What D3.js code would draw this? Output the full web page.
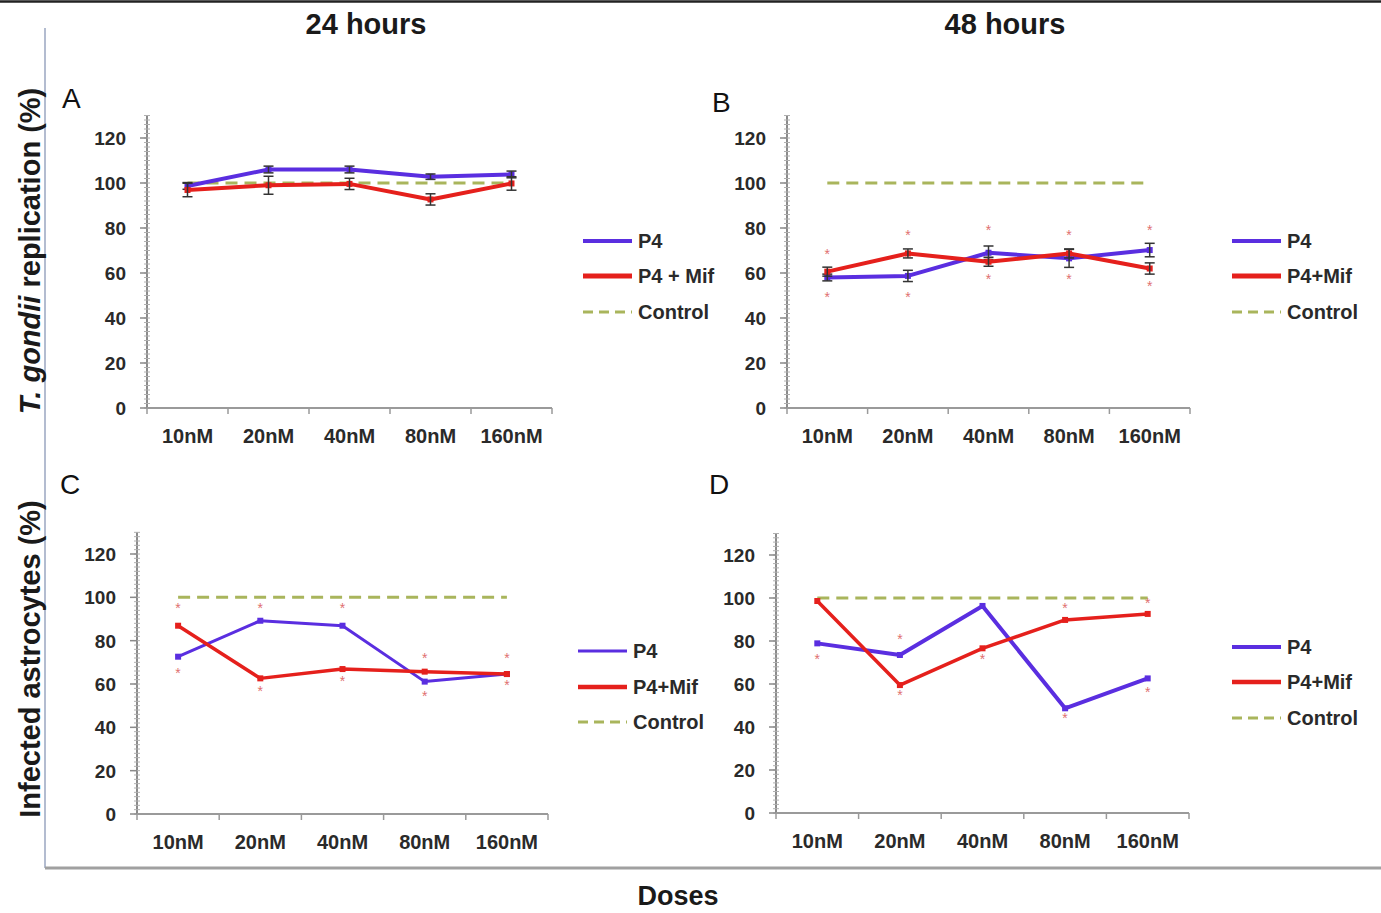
<!DOCTYPE html>
<html>
<head>
<meta charset="utf-8">
<script src="https://cdn.jsdelivr.net/npm/d3@7/dist/d3.min.js"></script>
<style>
  body { margin: 0; background: #fff; }
  svg { display: block; }
  text { font-family: Arial, "Liberation Sans", sans-serif; }
</style>
</head>
<body>
<div id="chart"></div>
<script>
const W = 1381, H = 913;

const doses = ["10nM", "20nM", "40nM", "80nM", "160nM"];
const yTicks = [0, 20, 40, 60, 80, 100, 120];

// panel A - 24h replication
const aP4 = [98.7, 106, 106, 102.8, 103.8];
const aP4Err = [1.5, 1.5, 1.5, 1.2, 1.5];
const aMif = [96.9, 99, 99.6, 92.7, 99.8];
const aMifErr = [3, 4, 2.5, 2.5, 3];

// panel B - 48h replication
const bP4 = [58, 58.7, 69, 66.5, 70.2];
const bP4Err = [1.5, 2.5, 3, 4, 3];
const bMif = [60.6, 68.7, 65, 68.7, 62];
const bMifErr = [2, 2, 2, 2, 2.5];
const bStarHi = [69, 77.3, 79.4, 77.3, 79.4];
const bStarLo = [49.8, 49.8, 57.6, 57.6, 54.7];

// panel C - 24h infected astrocytes
const cP4 = [72.6, 89.2, 86.9, 61.1, 64.6];
const cMif = [86.9, 62.6, 66.9, 65.7, 64.6];
const cStarHi = [95.7, 95.7, 95.7, 72.3, 72.3];
const cStarLo = [65.7, 57.2, 61.8, 54.9, 59.8];

// panel D - 48h infected astrocytes
const dP4 = [78.9, 73.5, 96.3, 48.7, 62.6];
const dMif = [98.6, 59.5, 76.6, 89.8, 92.6];
const dStarHi = [null, 81.3, null, 96, 98.3];
const dStarLo = [72, 55.2, 72, 44.8, 56.9];

const control = [100, 100, 100, 100, 100];

const purple = "#5a2ee0", red = "#e5201c", olive = "#a9b55c";

const svg = d3.select("#chart").append("svg").attr("width", W).attr("height", H);

// frame
svg.append("line").attr("x1", 0).attr("x2", W).attr("y1", 1.5).attr("y2", 1.5)
  .attr("stroke", "#222").attr("stroke-width", 2.5);
svg.append("line").attr("x1", 45).attr("x2", 45).attr("y1", 28).attr("y2", 868)
  .attr("stroke", "#9aa6c0").attr("stroke-width", 1.5);
svg.append("line").attr("x1", 45).attr("x2", W).attr("y1", 868).attr("y2", 868)
  .attr("stroke", "#a0a0a0").attr("stroke-width", 3);

const narrow = "'Liberation Sans Narrow', 'Arial Narrow', Arial, sans-serif";
function titleText(x, y, s, size) {
  return svg.append("text").attr("x", x).attr("y", y).attr("text-anchor", "middle")
    .style("font-family", narrow)
    .style("font-size", size + "px").style("font-weight", "bold").attr("fill", "#1a1a1a").text(s);
}
titleText(366, 34, "24 hours", 29);
titleText(1005, 34, "48 hours", 29);
titleText(678, 905, "Doses", 27);

// y titles
const yt1 = svg.append("text").attr("transform", "translate(40,251) rotate(-90)")
  .attr("text-anchor", "middle").style("font-size", "29px").style("font-weight", "bold").attr("fill", "#1a1a1a");
yt1.append("tspan").style("font-style", "italic").text("T. gondii");
yt1.append("tspan").text(" replication (%)");
svg.append("text").attr("transform", "translate(40,659) rotate(-90)")
  .attr("text-anchor", "middle").style("font-size", "29px").style("font-weight", "bold").attr("fill", "#1a1a1a")
  .text("Infected astrocytes (%)");

function panel(cfg) {
  const x = d3.scaleBand().domain(doses).range([cfg.x0, cfg.x1]);
  const y = d3.scaleLinear().domain([0, 120]).range([cfg.y0, cfg.y120]);
  const g = svg.append("g");
  const cx = d => x(d) + x.bandwidth() / 2;

  g.append("text").attr("x", cfg.lx).attr("y", cfg.ly).style("font-size", "28px")
    .attr("fill", "#111").text(cfg.letter);

  // y axis with dense minor ticks
  const yTop = y(130);
  g.append("line").attr("x1", cfg.x0).attr("x2", cfg.x0).attr("y1", yTop).attr("y2", cfg.y0)
    .attr("stroke", "#8a8a8a").attr("stroke-width", 2);
  g.selectAll(".minor").data(d3.range(0, 131, 2)).enter().append("line")
    .attr("x1", cfg.x0 - 3).attr("x2", cfg.x0 + 3)
    .attr("y1", d => y(d)).attr("y2", d => y(d))
    .attr("stroke", "#b0b0b0").attr("stroke-width", 1);
  g.selectAll(".major").data(yTicks).enter().append("line")
    .attr("x1", cfg.x0 - 7).attr("x2", cfg.x0)
    .attr("y1", d => y(d)).attr("y2", d => y(d))
    .attr("stroke", "#8a8a8a").attr("stroke-width", 1.5);
  g.selectAll(".ylab").data(yTicks).enter().append("text")
    .attr("x", cfg.x0 - 21).attr("y", d => y(d) + 7).attr("text-anchor", "end")
    .style("font-size", "19px").style("font-weight", "bold").attr("fill", "#2a2a2a")
    .text(d => d);

  // x axis
  g.append("line").attr("x1", cfg.x0).attr("x2", cfg.x1).attr("y1", cfg.y0).attr("y2", cfg.y0)
    .attr("stroke", "#9a9a9a").attr("stroke-width", 2);
  g.selectAll(".xt").data(doses.map(d => x(d)).concat([cfg.x1])).enter().append("line")
    .attr("x1", d => d).attr("x2", d => d).attr("y1", cfg.y0).attr("y2", cfg.y0 + 6)
    .attr("stroke", "#9a9a9a").attr("stroke-width", 1.5);
  g.selectAll(".xlab").data(doses).enter().append("text")
    .attr("x", d => cx(d)).attr("y", cfg.y0 + 35).attr("text-anchor", "middle")
    .style("font-size", "20px").style("font-weight", "bold").attr("fill", "#2a2a2a")
    .text(d => d);

  const line = d3.line().x((d, i) => cx(doses[i])).y(d => y(d));

  // control
  g.append("path").datum(control).attr("d", line).attr("fill", "none")
    .attr("stroke", olive).attr("stroke-width", 3).attr("stroke-dasharray", "12,7");

  function series(vals, errs, color, w) {
    g.append("path").datum(vals).attr("d", line).attr("fill", "none")
      .attr("stroke", color).attr("stroke-width", w).attr("stroke-linejoin", "round");
    g.selectAll(null).data(vals).enter().append("rect")
      .attr("x", (d, i) => cx(doses[i]) - 3).attr("y", d => y(d) - 3)
      .attr("width", 6).attr("height", 6).attr("fill", color);
    if (errs) {
      vals.forEach((v, i) => {
        const px = cx(doses[i]);
        g.append("line").attr("x1", px).attr("x2", px)
          .attr("y1", y(v + errs[i])).attr("y2", y(v - errs[i]))
          .attr("stroke", "#333").attr("stroke-width", 1.5);
        [v + errs[i], v - errs[i]].forEach(e => {
          g.append("line").attr("x1", px - 5).attr("x2", px + 5)
            .attr("y1", y(e)).attr("y2", y(e)).attr("stroke", "#333").attr("stroke-width", 1.5);
        });
      });
    }
  }
  series(cfg.p4, cfg.p4Err, purple, cfg.wP4);
  series(cfg.mif, cfg.mifErr, red, cfg.wMif);

  [cfg.starHi, cfg.starLo].forEach(arr => {
    if (!arr) return;
    g.selectAll(null).data(arr.map((v, i) => ({ v, i })).filter(d => d.v != null)).enter()
      .append("text").attr("x", d => cx(doses[d.i])).attr("y", d => y(d.v) + 6)
      .attr("text-anchor", "middle").style("font-size", "14px").attr("fill", "#e07070")
      .text("*");
  });

  // legend
  const lg = svg.append("g");
  const items = [
    { name: "P4", color: purple, dash: null, w: cfg.wP4 },
    { name: cfg.mifName, color: red, dash: null, w: cfg.wMif + 1 },
    { name: "Control", color: olive, dash: "10,6", w: 3 }
  ];
  items.forEach((it, i) => {
    const ly = cfg.legY[i];
    lg.append("line").attr("x1", cfg.legX).attr("x2", cfg.legX + 49)
      .attr("y1", ly).attr("y2", ly).attr("stroke", it.color).attr("stroke-width", it.w)
      .attr("stroke-dasharray", it.dash);
    lg.append("text").attr("x", cfg.legX + 55).attr("y", ly + 7)
      .style("font-size", "20px").style("font-weight", "bold").attr("fill", "#2a2a2a")
      .text(it.name);
  });
}

panel({ letter: "A", lx: 62, ly: 108, x0: 147, x1: 552, y0: 408, y120: 138,
  p4: aP4, p4Err: aP4Err, mif: aMif, mifErr: aMifErr, wP4: 4, wMif: 4,
  legX: 583, legY: [241, 276, 312], mifName: "P4 + Mif" });
panel({ letter: "B", lx: 712, ly: 112, x0: 787, x1: 1190, y0: 408, y120: 138,
  p4: bP4, p4Err: bP4Err, mif: bMif, mifErr: bMifErr, wP4: 4, wMif: 4,
  starHi: bStarHi, starLo: bStarLo,
  legX: 1232, legY: [241, 276, 312], mifName: "P4+Mif" });
panel({ letter: "C", lx: 60, ly: 494, x0: 137, x1: 548, y0: 814, y120: 554,
  p4: cP4, mif: cMif, wP4: 3, wMif: 3.5,
  starHi: cStarHi, starLo: cStarLo,
  legX: 578, legY: [651, 687, 722], mifName: "P4+Mif" });
panel({ letter: "D", lx: 709, ly: 494, x0: 776, x1: 1189, y0: 813, y120: 555,
  p4: dP4, mif: dMif, wP4: 4, wMif: 3.5,
  starHi: dStarHi, starLo: dStarLo,
  legX: 1232, legY: [647, 682, 718], mifName: "P4+Mif" });
</script>
</body>
</html>
